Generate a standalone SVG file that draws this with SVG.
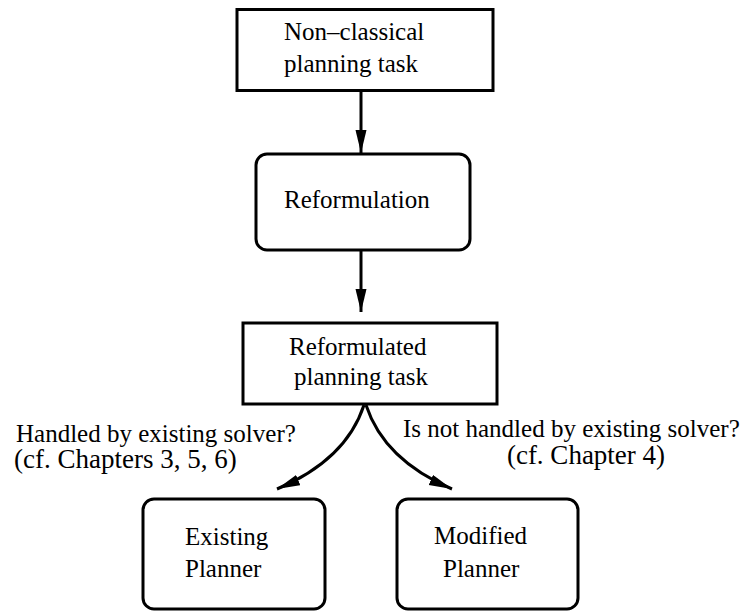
<svg xmlns="http://www.w3.org/2000/svg" width="749" height="611" viewBox="0 0 749 611">
<style>
.box{fill:#fff;stroke:#000;stroke-width:3}
.t{font-family:"Liberation Serif","Times New Roman",serif;font-size:25px;fill:#000}
.t2{font-family:"Liberation Serif","Times New Roman",serif;font-size:27px;fill:#000}
.c{fill:none;stroke:#000;stroke-width:3}
</style>
<defs>
<marker id="ah" markerUnits="userSpaceOnUse" markerWidth="24" markerHeight="12" refX="23" refY="5.5" orient="auto" viewBox="0 0 24 12">
<path d="M0,0 L23,5.5 L0,11 z" fill="#000"/>
</marker>
</defs>
<rect width="749" height="611" fill="#fff"/>
<g id="connectors">
<line class="c" x1="361" y1="91" x2="361" y2="153" marker-end="url(#ah)"/>
<line class="c" x1="361" y1="250" x2="361" y2="312" marker-end="url(#ah)"/>
<path class="c" d="M364,405 Q346,460 277,489" marker-end="url(#ah)"/>
<path class="c" d="M366,405 Q384,460 452,489" marker-end="url(#ah)"/>
</g>
<g id="n1">
<rect class="box" x="237" y="9.5" width="256" height="81"/>
<text class="t" x="284" y="40">Non–classical</text>
<text class="t" x="284" y="72">planning task</text>
</g>
<g id="n2">
<rect class="box" x="256" y="154" width="214" height="96" rx="11"/>
<text class="t" x="284" y="208">Reformulation</text>
</g>
<g id="n3">
<rect class="box" x="243" y="323" width="254" height="81"/>
<text class="t" x="289" y="355">Reformulated</text>
<text class="t" x="294" y="385">planning task</text>
</g>
<g id="n4">
<rect class="box" x="143" y="499" width="182" height="110" rx="11"/>
<text class="t" x="185" y="545">Existing</text>
<text class="t" x="185" y="577">Planner</text>
</g>
<g id="n5">
<rect class="box" x="397" y="499" width="181" height="110" rx="11"/>
<text class="t" x="434" y="544">Modified</text>
<text class="t" x="443" y="577">Planner</text>
</g>
<g id="labels">
<text class="t" x="16" y="442">Handled by existing solver?</text>
<text class="t2" x="14" y="468">(cf. Chapters 3, 5, 6)</text>
<text class="t" x="403" y="437">Is not handled by existing solver?</text>
<text class="t2" x="586" y="464" text-anchor="middle">(cf. Chapter 4)</text>
</g>
</svg>
